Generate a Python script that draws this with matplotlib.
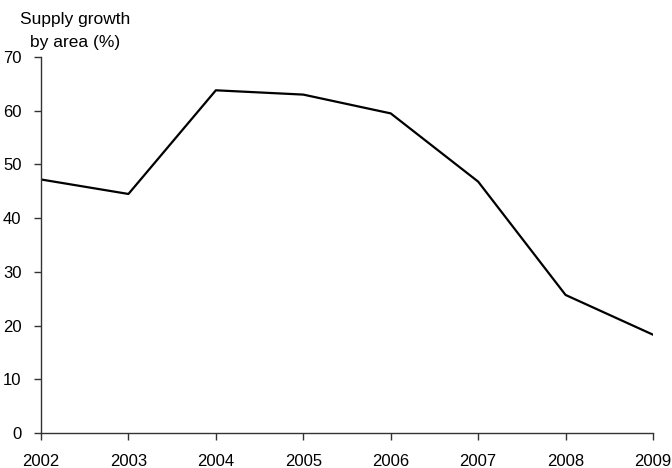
import matplotlib
matplotlib.use('Agg')
import matplotlib.pyplot as plt

plt.rcParams['font.family'] = ['Liberation Sans', 'DejaVu Sans']

years = [2002, 2003, 2004, 2005, 2006, 2007, 2008, 2009]
growth = [47.2, 44.5, 63.8, 63.0, 59.5, 46.8, 25.7, 18.3]

fig = plt.figure(figsize=(6.72, 4.68), dpi=100)
ax = fig.add_axes([41/672, 35/468, 612/672, 376/468])

ax.plot(years, growth, color='black', linewidth=1.6)

ax.set_xlim(2002, 2009)
ax.set_ylim(0, 70)
ax.set_xticks(years)
ax.set_yticks(range(0, 71, 10))
ax.spines['top'].set_visible(False)
ax.spines['right'].set_visible(False)
for s in ['left', 'bottom']:
    ax.spines[s].set_color('#333333')
    ax.spines[s].set_linewidth(1.0)
ax.tick_params(axis='both', direction='out', length=5, width=1.0, color='#333333',
               labelsize=12, labelcolor='black')
ax.tick_params(axis='x', pad=10)
ax.tick_params(axis='y', pad=9)

fig.text(75/672, 1 - 12/468, 'Supply growth\nby area (%)', ha='center', va='top',
         fontsize=12.5, linespacing=1.65)

fig.savefig('out.png', dpi=100)
